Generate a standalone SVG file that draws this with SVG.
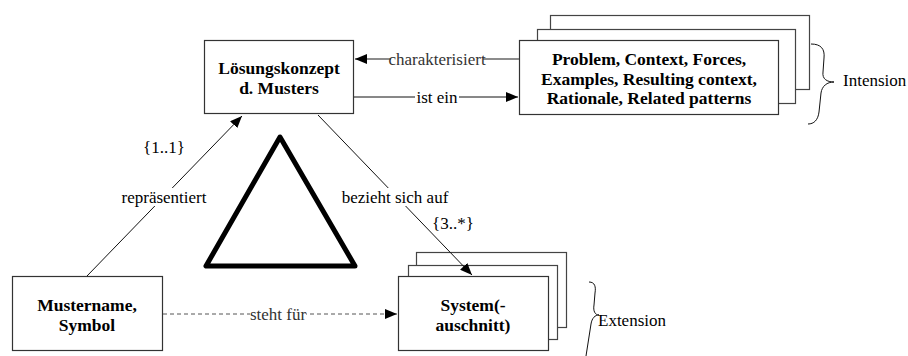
<svg xmlns="http://www.w3.org/2000/svg" width="908" height="356" viewBox="0 0 908 356">
<defs>
<marker id="ah" viewBox="0 0 12 10" refX="12" refY="5" markerWidth="12" markerHeight="10" markerUnits="userSpaceOnUse" orient="auto"><path d="M0,0L12,5L0,10z" fill="#000"/></marker>
</defs>
<g id="loesung">
<rect x="204.5" y="40.5" width="149" height="73" fill="#fff" stroke="#333" stroke-width="1.2"/>
<text x="279" y="74" font-family="Times New Roman, Liberation Serif, serif" font-size="17.5" font-weight="bold" text-anchor="middle">Lösungskonzept</text>
<text x="279" y="94" font-family="Times New Roman, Liberation Serif, serif" font-size="17.5" font-weight="bold" text-anchor="middle">d. Musters</text>
</g>
<g id="intension-box">
<rect x="550.5" y="15.5" width="259" height="74" fill="#fff" stroke="#444" stroke-width="1.2"/>
<rect x="537.5" y="29.5" width="258" height="74" fill="#fff" stroke="#444" stroke-width="1.2"/>
<rect x="519.5" y="40.5" width="259" height="74" fill="#fff" stroke="#333" stroke-width="1.2"/>
<text x="649" y="65" font-family="Times New Roman, Liberation Serif, serif" font-size="17.5" font-weight="bold" text-anchor="middle">Problem, Context, Forces,</text>
<text x="649" y="85" font-family="Times New Roman, Liberation Serif, serif" font-size="17.5" font-weight="bold" text-anchor="middle">Examples, Resulting context,</text>
<text x="649" y="104" font-family="Times New Roman, Liberation Serif, serif" font-size="17.5" font-weight="bold" text-anchor="middle">Rationale, Related patterns</text>
</g>
<g id="mustername">
<rect x="12.5" y="276.5" width="150" height="74" fill="#fff" stroke="#333" stroke-width="1.2"/>
<text x="87" y="311" font-family="Times New Roman, Liberation Serif, serif" font-size="17.5" font-weight="bold" text-anchor="middle">Mustername,</text>
<text x="87" y="331" font-family="Times New Roman, Liberation Serif, serif" font-size="17.5" font-weight="bold" text-anchor="middle">Symbol</text>
</g>
<g id="system">
<rect x="416.5" y="252.5" width="150" height="75" fill="#fff" stroke="#444" stroke-width="1.2"/>
<rect x="408.5" y="265.5" width="149" height="74" fill="#fff" stroke="#444" stroke-width="1.2"/>
<rect x="398.5" y="276.5" width="150" height="74" fill="#fff" stroke="#333" stroke-width="1.2"/>
<text x="473" y="311" font-family="Times New Roman, Liberation Serif, serif" font-size="17.5" font-weight="bold" text-anchor="middle">System(-</text>
<text x="473" y="331" font-family="Times New Roman, Liberation Serif, serif" font-size="17.5" font-weight="bold" text-anchor="middle">auschnitt)</text>
</g>
<g id="triangle"><path d="M280,137L206,266L355,266z" fill="none" stroke="#000" stroke-width="5" stroke-linejoin="round"/></g>
<g id="connectors">
<line x1="519" y1="59" x2="355" y2="59" marker-end="url(#ah)" stroke="#666" stroke-width="1.3"/>
<rect x="391" y="50" width="92" height="18" fill="#fff"/>
<text x="437" y="65" font-family="Times New Roman, Liberation Serif, serif" font-size="17" text-anchor="middle" fill="#333">charakterisiert</text>
<line x1="354" y1="97" x2="518" y2="97" marker-end="url(#ah)" stroke="#111"/>
<rect x="415" y="88" width="44" height="18" fill="#fff"/>
<text x="437" y="103" font-family="Times New Roman, Liberation Serif, serif" font-size="17" text-anchor="middle">ist ein</text>
<line x1="163" y1="314" x2="397" y2="314" stroke-dasharray="4,3" marker-end="url(#ah)" stroke="#555"/>
<rect x="250" y="305" width="56" height="18" fill="#fff"/>
<text x="278" y="320" font-family="Times New Roman, Liberation Serif, serif" font-size="17" text-anchor="middle" fill="#333">steht für</text>
<line x1="87" y1="276" x2="242" y2="116" marker-end="url(#ah)" stroke="#111"/>
<rect x="120" y="188" width="88" height="18" fill="#fff"/>
<text x="164" y="203" font-family="Times New Roman, Liberation Serif, serif" font-size="17" text-anchor="middle">repräsentiert</text>
<text x="164" y="153" font-family="Times New Roman, Liberation Serif, serif" font-size="17" text-anchor="middle">{1..1}</text>
<line x1="318" y1="115" x2="472" y2="275" marker-end="url(#ah)" stroke="#111"/>
<rect x="343" y="188" width="104" height="18" fill="#fff"/>
<text x="395" y="203" font-family="Times New Roman, Liberation Serif, serif" font-size="17" text-anchor="middle">bezieht sich auf</text>
<text x="453" y="229" font-family="Times New Roman, Liberation Serif, serif" font-size="17" text-anchor="middle">{3..*}</text>
</g>
<g id="braces">
<path d="M811,44C821,44 825,49 824,58L823,72C822,79 827,82 834,82C827,82 822,86 821,93L819,112C818,120 814,124 808,124" fill="none" stroke="#111"/>
<text x="843" y="86" font-family="Times New Roman, Liberation Serif, serif" font-size="17">Intension</text>
<path d="M589,282C595,282 596,287 595,293L594,305C593,311 595,315 599,315C595,315 592,318 591,324L586,356" fill="none" stroke="#111"/>
<text x="598" y="326" font-family="Times New Roman, Liberation Serif, serif" font-size="17">Extension</text>
</g>
</svg>
